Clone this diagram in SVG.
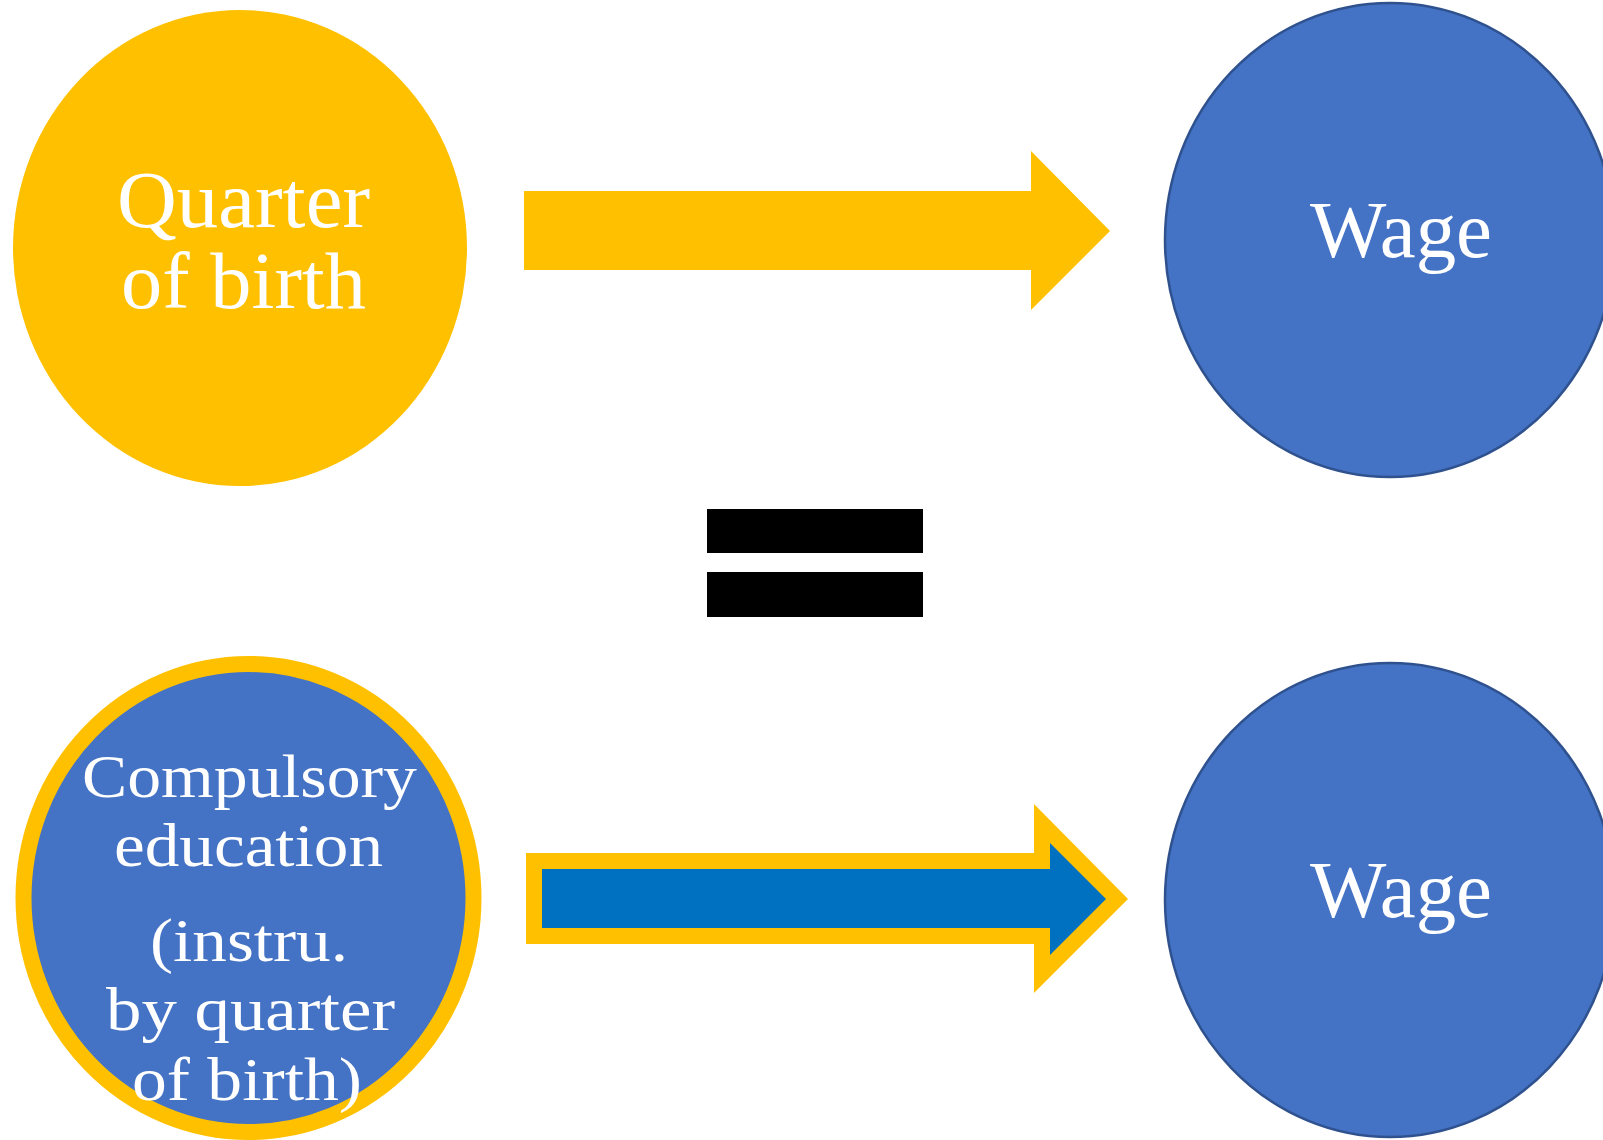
<svg xmlns="http://www.w3.org/2000/svg" width="1603" height="1140" viewBox="0 0 1603 1140">
<style>
.lbl{font-family:"Liberation Serif","DejaVu Serif",serif;fill:#FFFFFF;text-anchor:middle}
.big{font-size:80px}
.mid{font-size:61px}
.wage{fill:#4472C4;stroke:#2F528F;stroke-width:2.5}
</style>
<rect x="0" y="0" width="1603" height="1140" fill="#FFFFFF"/>
<g id="connectors">
<polygon id="arrow-top" fill="#FFC000" points="524,191 1031,191 1031,151 1110,231 1031,310 1031,270 524,270"/>
<g id="arrow-bottom">
<polygon fill="#FFC000" points="526,853 1034,853 1034,804 1128,899 1034,993 1034,944 526,944"/>
<polygon fill="#0070C0" points="542,869 1050,869 1050,843 1106,899 1050,955 1050,928 542,928"/>
</g>
</g>
<g id="node-quarter">
<ellipse cx="240" cy="248" rx="227" ry="238" fill="#FFC000"/>
<text class="lbl big" x="243.5" y="227" textLength="253" lengthAdjust="spacingAndGlyphs">Quarter</text>
<text class="lbl big" x="243.5" y="308" textLength="245" lengthAdjust="spacingAndGlyphs">of birth</text>
</g>
<g id="node-wage-top">
<ellipse class="wage" cx="1390" cy="240" rx="225" ry="237"/>
<text class="lbl big" x="1401" y="257" textLength="182" lengthAdjust="spacingAndGlyphs">Wage</text>
</g>
<g id="equals">
<rect x="707" y="509" width="216" height="44" fill="#000000"/>
<rect x="707" y="572" width="216" height="45" fill="#000000"/>
</g>
<g id="node-education">
<ellipse cx="248.5" cy="898" rx="225" ry="234" fill="#4472C4" stroke="#FFC000" stroke-width="16"/>
<text class="lbl mid" x="249.5" y="797" textLength="335" lengthAdjust="spacingAndGlyphs">Compulsory</text>
<text class="lbl mid" x="248.5" y="866" textLength="269" lengthAdjust="spacingAndGlyphs">education</text>
<text class="lbl mid" x="249" y="961" textLength="198" lengthAdjust="spacingAndGlyphs">(instru.</text>
<text class="lbl mid" x="250.5" y="1030" textLength="289" lengthAdjust="spacingAndGlyphs">by quarter</text>
<text class="lbl mid" x="247" y="1100" textLength="230" lengthAdjust="spacingAndGlyphs">of birth)</text>
</g>
<g id="node-wage-bottom">
<ellipse class="wage" cx="1390" cy="900" rx="225" ry="237"/>
<text class="lbl big" x="1401" y="917" textLength="182" lengthAdjust="spacingAndGlyphs">Wage</text>
</g>
</svg>
